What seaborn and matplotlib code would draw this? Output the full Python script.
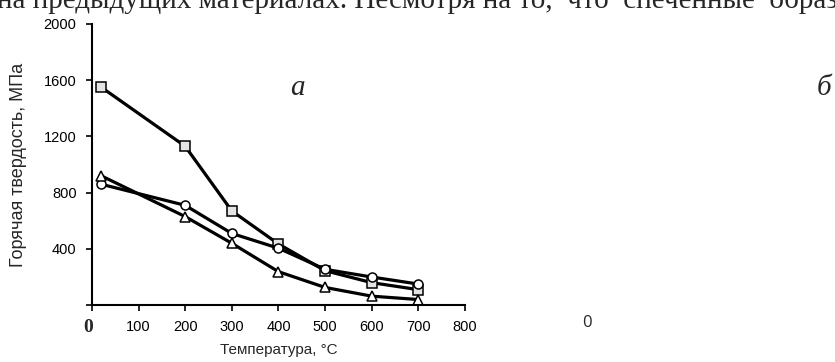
import pandas as pd
import seaborn as sns
import matplotlib.pyplot as plt

# temperatures, C
temp = [20, 200, 300, 400, 500, 600, 700]
# hot hardness, MPa
hv_square = [1550, 1130, 670, 435, 245, 160, 110]
hv_circle = [860, 710, 510, 405, 255, 200, 150]
hv_triangle = [920, 630, 440, 238, 126, 64, 40]

xticks = [0, 100, 200, 300, 400, 500, 600, 700, 800]
xticklabels = ['0', '100', '200', '300', '400', '500', '600', '700', '800']
yticks = [0, 400, 800, 1200, 1600, 2000]
yticklabels = ['', '400', '800', '1200', '1600', '2000']

df = pd.DataFrame({'temp': temp, 'sq': hv_square, 'ci': hv_circle, 'tr': hv_triangle})

sns.set_style('ticks')
plt.rcParams['font.family'] = ['Liberation Sans', 'DejaVu Sans']

fig = plt.figure(figsize=(8.35, 3.62), dpi=100)
ax = fig.add_axes([0.110, 0.157, 0.447, 0.777])

sns.lineplot(data=df, x='temp', y='sq', ax=ax, color='black', lw=2.3,
             marker='s', markersize=7.5, markerfacecolor='#e4e4e4',
             markeredgecolor='black', markeredgewidth=1.1)
sns.lineplot(data=df, x='temp', y='ci', ax=ax, color='black', lw=2.3,
             marker='o', markersize=6.5, markerfacecolor='white',
             markeredgecolor='black', markeredgewidth=1.1)
sns.lineplot(data=df, x='temp', y='tr', ax=ax, color='black', lw=2.3,
             marker='^', markersize=7.5, markerfacecolor='white',
             markeredgecolor='black', markeredgewidth=1.1)

ax.set_xlim(0, 800)
ax.set_ylim(0, 2000)
ax.set_xticks(xticks)
ax.set_xticklabels(xticklabels, fontsize=10.5)
ax.set_yticks(yticks)
ax.set_yticklabels(yticklabels, fontsize=10.5)
ax.get_xticklabels()[0].set_visible(False)
ax.tick_params(direction='out', length=4, width=1.2, colors='black', pad=7)
sns.despine(ax=ax)
for s in ['left', 'bottom']:
    ax.spines[s].set_linewidth(1.5)
    ax.spines[s].set_color('black')

ax.set_xlabel('Температура, °С', fontsize=11, labelpad=6)
ax.set_ylabel('Горячая твердость, МПа', fontsize=13, labelpad=12)

# bold serif zero at the origin
fig.text(88 / 835, 1 - 327 / 362, '0', family='Liberation Serif', fontweight='bold',
         fontsize=14, ha='center', va='center')
# panel letters
fig.text(297 / 835, 1 - 88 / 362, 'а', family='Liberation Serif', style='italic',
         fontsize=21, ha='center', va='center')
fig.text(824 / 835, 1 - 88 / 362, 'б', family='Liberation Serif', style='italic',
         fontsize=21, ha='center', va='center')
fig.text(587 / 835, 1 - 323 / 362, '0', family='Open Sans', fontsize=12,
         ha='center', va='center')
# text line cut off at the top edge, as in the reference
fig.text(-0.003, 1 - 7.5 / 362, 'на предыдущих материалах. Несмотря на то,  что  спеченные  образ',
         family='Liberation Serif', fontsize=21, ha='left', va='baseline')

fig.savefig('out.png', dpi=100)
